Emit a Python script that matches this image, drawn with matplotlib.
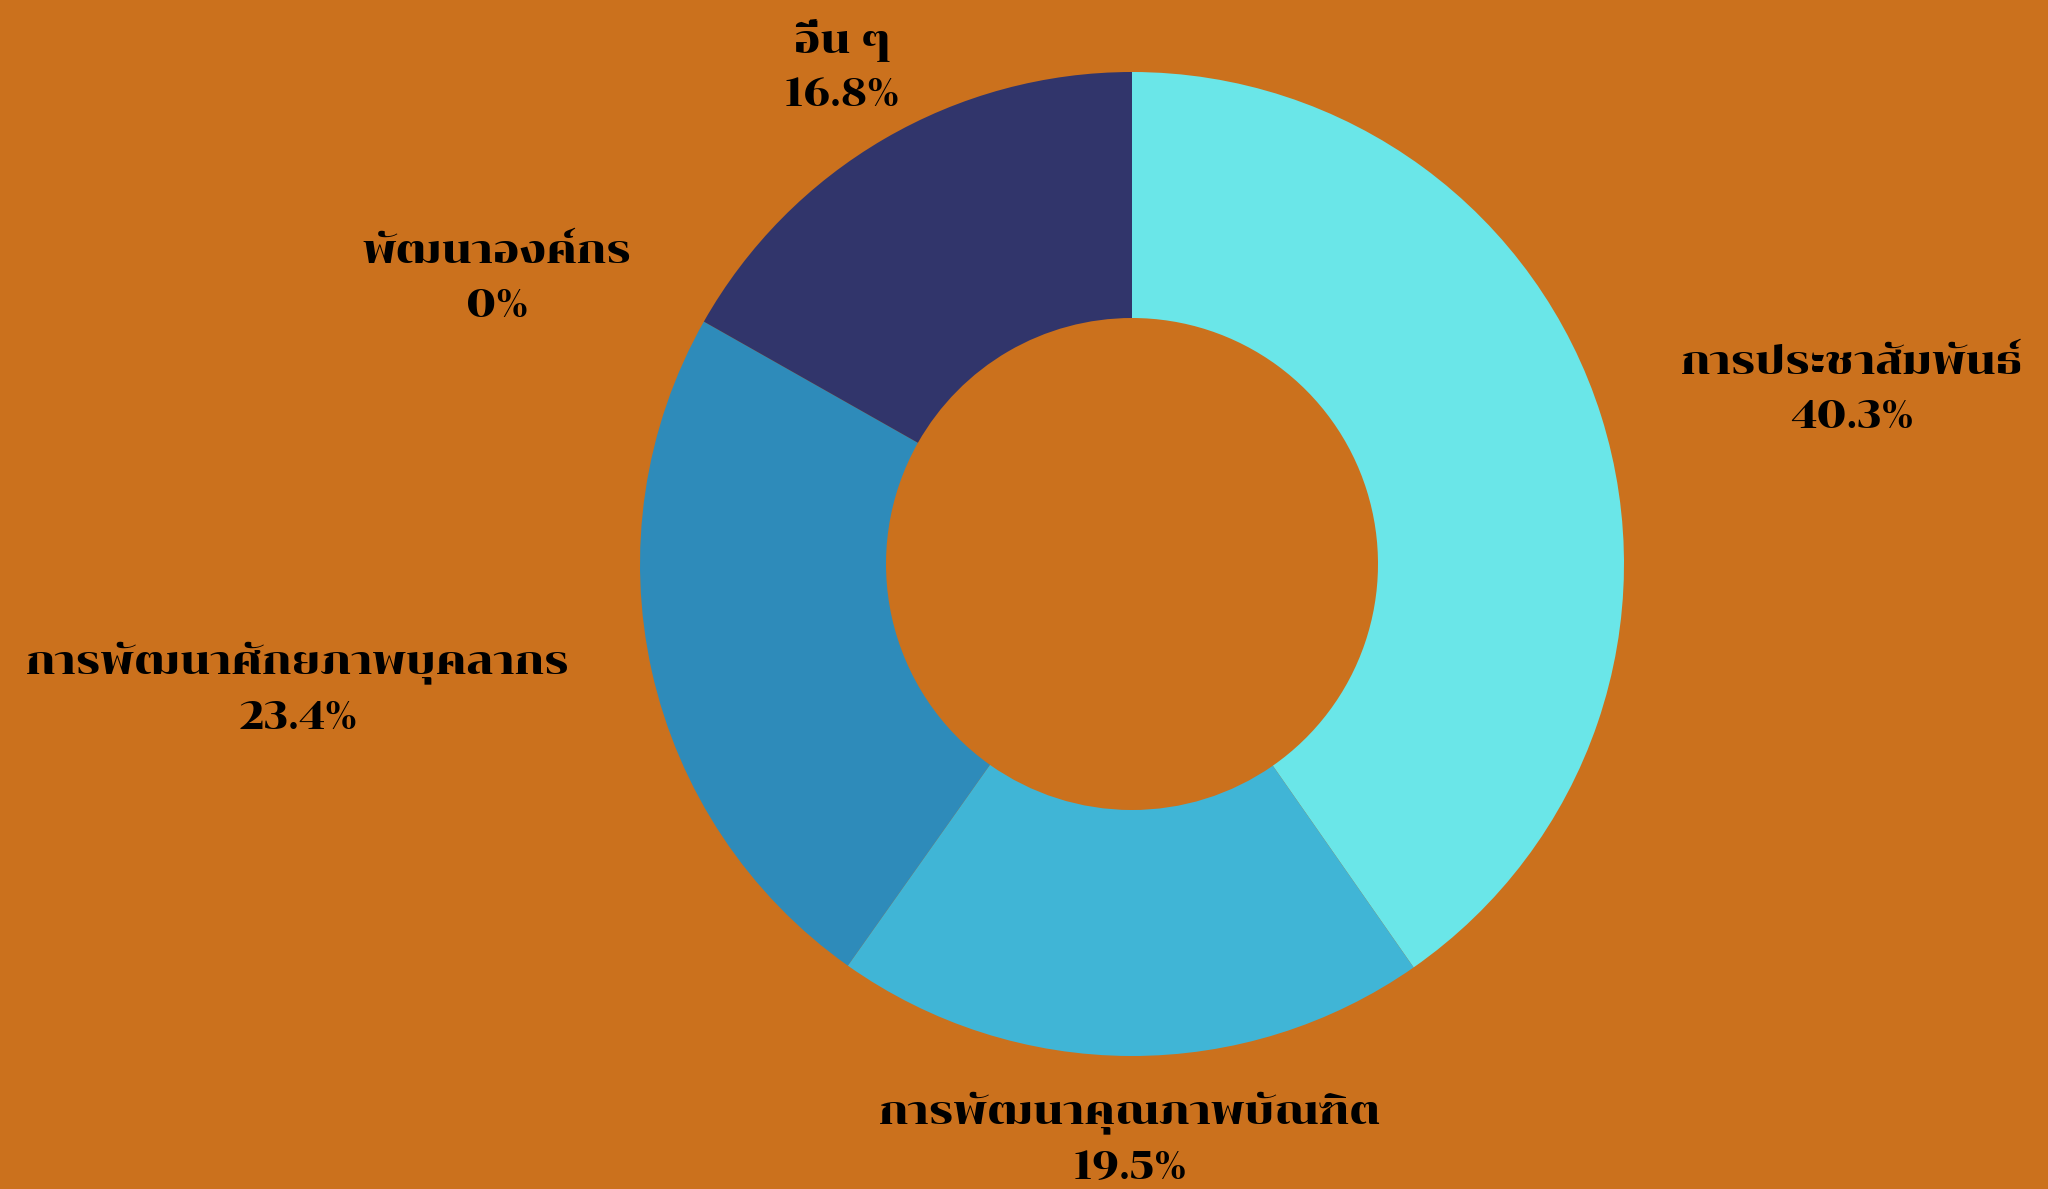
import numpy as np
import matplotlib
matplotlib.use("Agg")
import matplotlib.pyplot as plt

labels = ["การประชาสัมพันธ์", "การพัฒนาคุณภาพบัณฑิต", "การพัฒนาศักยภาพบุคลากร",
          "พัฒนาองค์กร", "อื่น ๆ"]
values = [40.3, 19.5, 23.4, 0, 16.8]
colors = ["#6AE6E8", "#40B5D6", "#2E8BBA", "#2E8BBA", "#31356B"]
bg = "#CB711D"

plt.rcParams["font.family"] = ["Chonburi", "DejaVu Sans"]

fig = plt.figure(figsize=(20.48, 11.89), dpi=100, facecolor=bg)
# outer radius ~492 px, centre at (1132, 564)
ax = fig.add_axes([(1132 - 492) / 2048, (1189 - 564 - 492) / 1189, 984 / 2048, 984 / 1189])
ax.set_facecolor(bg)

wedges, _ = ax.pie(values, colors=colors, startangle=90, counterclock=False,
                   radius=1.0, wedgeprops=dict(width=0.5, linewidth=0))
ax.set_xlim(-1, 1)
ax.set_ylim(-1, 1)
ax.set_aspect("equal")
ax.axis("off")

# labels outside each slice
total = sum(values)
cum = 0
for lab, v in zip(labels, values):
    mid = 90 - (cum + v / 2) / total * 360
    cum += v
    a = np.deg2rad(mid)
    x, y = 1.17 * np.cos(a), 1.17 * np.sin(a)
    if abs(np.cos(a)) < 0.6:
        ha = "center"
    elif x > 0:
        ha = "left"
    else:
        ha = "right"
    pct = ("%.1f" % v).rstrip("0").rstrip(".") + "%"
    ax.text(x, y, lab + "\n" + pct, ha=ha, va="center", multialignment="center",
            fontsize=28, color="black", linespacing=1.55, clip_on=False)

fig.savefig("out.png", facecolor=bg)
